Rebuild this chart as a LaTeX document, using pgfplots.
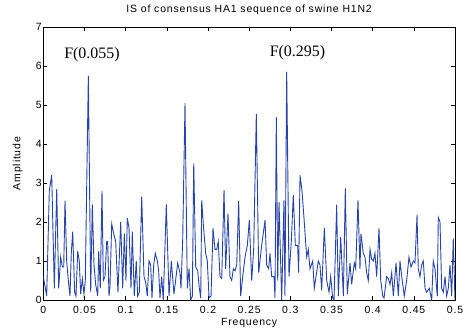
\documentclass[border=0pt]{standalone}
\usepackage{fontspec}
\setmainfont{Liberation Sans}[LetterSpace=8]
\newfontfamily\annfont{Liberation Serif}
\usepackage{pgfplots}
\pgfplotsset{compat=1.18}
\definecolor{specblue}{RGB}{40,68,168}
\pgfplotstableread{
f a
0.0000 0.60
0.0041 0.10
0.0073 2.80
0.0102 3.20
0.0134 0.30
0.0163 2.85
0.0187 0.30
0.0211 1.10
0.0231 0.85
0.0248 0.85
0.0264 2.55
0.0284 1.00
0.0304 0.50
0.0324 0.10
0.0340 1.20
0.0357 1.75
0.0381 0.20
0.0397 0.10
0.0418 1.25
0.0437 1.00
0.0454 0.15
0.0474 0.55
0.0494 0.15
0.0510 0.50
0.0547 5.75
0.0576 0.20
0.0595 2.45
0.0616 0.90
0.0636 0.40
0.0661 0.10
0.0673 1.25
0.0692 0.30
0.0713 2.80
0.0729 0.50
0.0749 0.60
0.0770 1.50
0.0782 1.50
0.0798 0.10
0.0810 0.35
0.0831 1.95
0.0850 1.75
0.0879 1.50
0.0907 0.20
0.0940 2.00
0.0964 0.30
0.0984 1.70
0.1004 0.50
0.1020 2.10
0.1041 1.85
0.1065 0.30
0.1081 1.75
0.1105 0.10
0.1129 1.00
0.1146 0.10
0.1166 0.20
0.1195 2.65
0.1223 0.60
0.1244 0.45
0.1263 0.10
0.1284 1.00
0.1304 0.90
0.1320 0.05
0.1341 0.90
0.1360 1.20
0.1385 1.00
0.1401 0.75
0.1417 0.05
0.1438 0.60
0.1457 0.00
0.1494 2.45
0.1527 0.10
0.1555 1.00
0.1587 0.15
0.1632 0.95
0.1660 0.70
0.1672 0.30
0.1693 1.55
0.1721 5.05
0.1749 0.30
0.1770 0.80
0.1790 0.00
0.1810 0.10
0.1827 3.50
0.1851 0.85
0.1875 0.75
0.1895 0.30
0.1912 0.05
0.1924 2.56
0.1943 1.95
0.1972 1.20
0.1992 1.00
0.2013 0.05
0.2037 0.10
0.2061 1.84
0.2085 1.30
0.2106 1.30
0.2125 1.50
0.2146 0.60
0.2167 0.55
0.2195 2.82
0.2215 0.80
0.2243 2.22
0.2267 0.60
0.2288 0.50
0.2308 0.80
0.2328 0.75
0.2349 0.90
0.2373 2.54
0.2397 0.10
0.2422 0.60
0.2450 1.10
0.2478 1.40
0.2502 2.05
0.2531 0.50
0.2555 1.30
0.2587 4.77
0.2616 0.70
0.2652 1.40
0.2693 2.05
0.2713 0.90
0.2737 0.80
0.2753 1.20
0.2774 0.60
0.2802 0.60
0.2814 0.05
0.2830 4.68
0.2847 0.50
0.2863 2.51
0.2895 0.00
0.2923 2.57
0.2935 0.10
0.2956 5.85
0.2984 0.60
0.3012 1.50
0.3036 2.69
0.3061 1.40
0.3089 1.40
0.3101 0.70
0.3118 3.20
0.3142 2.80
0.3166 2.10
0.3199 1.10
0.3218 1.30
0.3239 0.80
0.3272 1.00
0.3291 0.30
0.3340 1.00
0.3360 0.90
0.3381 0.25
0.3413 1.85
0.3442 0.50
0.3470 0.20
0.3490 0.60
0.3515 0.05
0.3531 0.00
0.3563 2.44
0.3583 0.10
0.3612 1.62
0.3644 0.10
0.3668 2.86
0.3692 0.15
0.3725 0.95
0.3745 0.40
0.3777 0.95
0.3794 0.80
0.3822 2.56
0.3846 0.80
0.3858 1.70
0.3886 1.20
0.3907 1.10
0.3927 0.70
0.3947 0.50
0.3968 1.30
0.3988 1.05
0.4008 1.00
0.4028 1.20
0.4049 0.60
0.4077 1.84
0.4098 0.50
0.4122 0.10
0.4138 0.05
0.4170 0.60
0.4190 0.55
0.4211 0.40
0.4231 0.70
0.4251 0.10
0.4284 0.95
0.4312 0.10
0.4332 1.00
0.4353 0.60
0.4384 0.10
0.4413 0.50
0.4441 1.10
0.4466 0.85
0.4494 1.00
0.4514 0.95
0.4539 2.18
0.4554 0.80
0.4575 0.60
0.4595 0.90
0.4615 1.00
0.4636 0.30
0.4656 0.20
0.4688 0.30
0.4717 0.00
0.4736 1.00
0.4757 0.80
0.4785 0.10
0.4797 2.12
0.4818 2.00
0.4838 0.30
0.4858 0.20
0.4879 0.60
0.4899 0.10
0.4919 0.30
0.4939 0.90
0.4960 0.10
0.4979 1.58
0.5000 0.00
}\spectrum
\begin{document}
\begin{tikzpicture}
\useasboundingbox (-43.3bp,-28bp) rectangle (419.7bp,300bp);
\begin{axis}[
  at={(0,0)}, anchor=south west,
  scale only axis, width=411.7bp, height=273bp,
  xmin=0, xmax=0.5, ymin=0, ymax=7,
  xtick={0,0.05,0.1,0.15,0.2,0.25,0.3,0.35,0.4,0.45,0.5},
  xticklabels={0,0.05,0.1,0.15,0.2,0.25,0.3,0.35,0.4,0.45,0.5},
  ytick={0,1,2,3,4,5,6,7},
  yticklabels={0,1,2,3,4,5,6,7},
  tick align=inside, major tick length=4bp,
  tick style={black, line width=0.5bp},
  axis line style={black, line width=0.6bp},
  ticklabel style={font=\fontsize{10.5}{12}\selectfont},
  xticklabel style={anchor=base, yshift=-13.5bp},
  yticklabel style={anchor=east, inner xsep=1.5bp},
  title={IS of consensus HA1 sequence of swine H1N2},
  title style={at={(axis description cs:0.5,1)}, anchor=base, yshift=8.7bp, font=\fontsize{10.5}{12}\selectfont},
  xlabel={Frequency},
  xlabel style={at={(axis description cs:0.5,0)}, anchor=base, yshift=-25.5bp, font=\fontsize{10.5}{12}\selectfont},
  ylabel={Amplitude},
  ylabel style={at={(axis description cs:-0.0559,0.5)}, anchor=base, font=\fontsize{10.5}{12}\selectfont},
]
\addplot[specblue, line width=0.9bp, mark=none] table[x=f, y=a] {\spectrum};
\node[font=\annfont\fontsize{16}{19}\selectfont] at (axis cs:0.0591,6.29) {F(0.055)};
\node[font=\annfont\fontsize{16}{19}\selectfont] at (axis cs:0.3087,6.35) {F(0.295)};
\end{axis}
\end{tikzpicture}
\end{document}
